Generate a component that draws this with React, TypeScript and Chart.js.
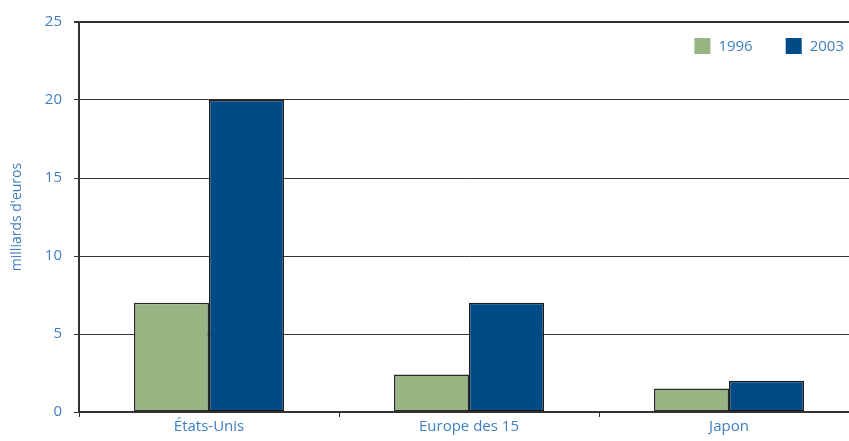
import React, { useEffect, useRef } from "react";
import { Chart, registerables } from "chart.js";

Chart.register(...registerables);

const categories = ["États-Unis", "Europe des 15", "Japon"];
const series1996 = [7, 2.4, 1.5];
const series2003 = [20, 7, 2];
const seriesLabels = ["1996", "2003"];
const yTicks = [0, 5, 10, 15, 20, 25];
const yTitle = "milliards d'euros";

const GREEN = "#97b482";
const BLUE = "#004b87";
const TEXT = "#3f7fc2";
const FONT = "'Open Sans', 'Noto Sans', sans-serif";

const insideLegend = {
  id: "insideLegend",
  afterDraw(chart: any) {
    const ctx = chart.ctx;
    const area = chart.chartArea;
    const items = chart.data.datasets.map((d: any) => ({ label: d.label, color: d.backgroundColor }));
    ctx.save();
    ctx.font = `15px ${FONT}`;
    ctx.textBaseline = "middle";
    ctx.textAlign = "left";
    const box = 16;
    const gapBoxText = 8;
    const gapItems = 33;
    const y = area.top + 16;
    const widths = items.map((it: any) => box + gapBoxText + ctx.measureText(it.label).width);
    const total = widths.reduce((a: number, b: number) => a + b, 0) + gapItems * (items.length - 1);
    let x = 844 - total;
    items.forEach((it: any, i: number) => {
      ctx.fillStyle = it.color;
      ctx.fillRect(x, y, box, box);
      ctx.fillStyle = TEXT;
      ctx.fillText(it.label, x + box + gapBoxText, y + box / 2 + 1);
      x += widths[i] + gapItems;
    });
    ctx.restore();
  },
};

export default function App() {
  const ref = useRef<HTMLCanvasElement | null>(null);
  useEffect(() => {
    if (!ref.current) return;
    const chart = new Chart(ref.current, {
      type: "bar",
      data: {
        labels: categories,
        datasets: [
          {
            label: seriesLabels[0],
            data: series1996,
            backgroundColor: GREEN,
            borderColor: "#2a2a2a",
            borderWidth: 1.5,
            borderSkipped: false,
          },
          {
            label: seriesLabels[1],
            data: series2003,
            backgroundColor: BLUE,
            borderColor: "#1a1a1a",
            borderWidth: 1.5,
            borderSkipped: false,
          },
        ],
      },
      options: {
        responsive: false,
        animation: false,
        devicePixelRatio: 1,
        layout: { padding: { top: 22, right: 1, left: 0, bottom: 0 } },
        datasets: { bar: { categoryPercentage: 0.577, barPercentage: 1 } },
        plugins: {
          legend: { display: false },
          tooltip: { enabled: false },
        },
        scales: {
          x: {
            grid: {
              offset: true,
              drawOnChartArea: false,
              drawTicks: true,
              tickLength: 5,
              color: "#333",
            },
            border: { display: true, color: "#333", width: 1.5 },
            ticks: { color: TEXT, font: { family: FONT, size: 15 }, padding: 1 },
            afterFit(scale: any) {
              scale.height = 29;
            },
          },
          y: {
            min: 0,
            max: 25,
            afterBuildTicks(scale: any) {
              scale.ticks = yTicks.map((v) => ({ value: v }));
            },
            grid: {
              color: "#333",
              lineWidth: (c: any) => (c.tick && c.tick.value === 25 ? 2 : 1),
              tickLength: 5,
            },
            border: { display: true, color: "#333", width: 2 },
            ticks: { color: TEXT, font: { family: FONT, size: 15 }, padding: 12 },
            title: {
              display: true,
              text: yTitle,
              color: TEXT,
              font: { family: FONT, size: 14 },
              padding: { top: 9, bottom: 0 },
            },
            afterFit(scale: any) {
              scale.width = 79;
            },
          },
        },
      },
      plugins: [insideLegend],
    });
    return () => chart.destroy();
  }, []);
  return (
    <div
      style={{
        position: "fixed",
        left: 0,
        top: 0,
        width: 849,
        height: 441,
        overflow: "hidden",
        background: "#fff",
      }}
    >
      <canvas ref={ref} width={860} height={441} style={{ display: "block" }} />
    </div>
  );
}
